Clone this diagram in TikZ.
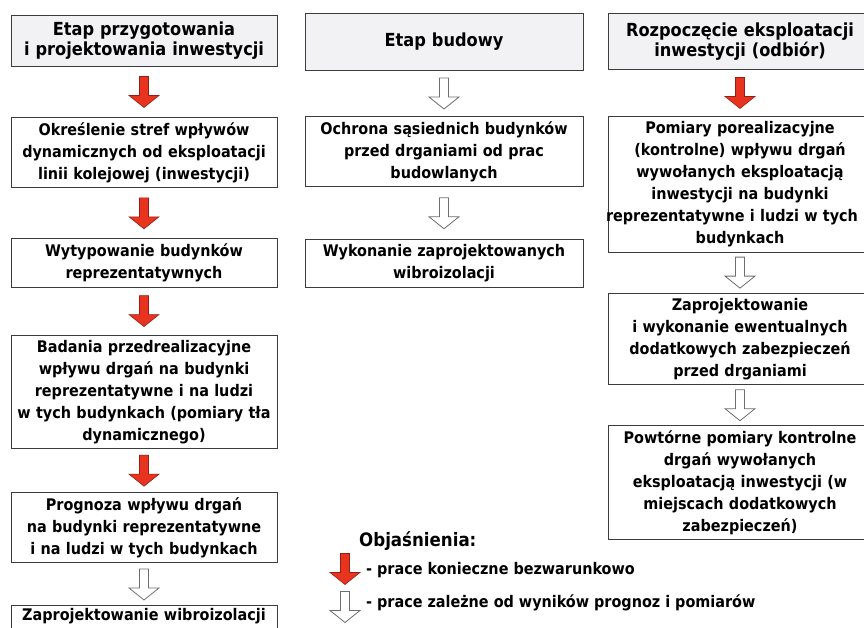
\documentclass[tikz,border=0pt]{standalone}
\usepackage{fontspec}
\setmainfont{DejaVu Sans Condensed}
\usetikzlibrary{calc,positioning}
\definecolor{boxline}{RGB}{60,60,60}
\definecolor{hdrfill}{RGB}{242,242,244}
\definecolor{arrred}{RGB}{232,52,30}
\definecolor{arrdark}{RGB}{150,30,20}
\definecolor{arrgray}{RGB}{110,110,110}
\tikzstyle{hdr}=[draw=boxline,fill=hdrfill,line width=1pt,align=center,inner sep=6pt,font=\bfseries\fontsize{18}{20}\selectfont]
\tikzstyle{box}=[draw=boxline,line width=1pt,align=center,inner xsep=6pt,inner ysep=5pt,font=\bfseries\fontsize{16}{22}\selectfont]
\tikzstyle{must}=[fill=arrred,draw=arrdark,line width=0.6pt,line join=miter]
\tikzstyle{maybe}=[fill=white,draw=arrgray,line width=0.8pt,line join=miter]
\tikzstyle{legend}=[anchor=west,inner sep=0pt,font=\bfseries\fontsize{16}{18}\selectfont]
\newcommand{\blockarrow}[2]{
	\draw[#1] (#2) ++(-4.5,-15.5) -- ++(9,0) -- ++(0,19) -- ++(10.5,0)
		-- ++(-15,12) -- ++(-15,-12) -- ++(10.5,0) -- cycle;
}
\newcommand{\drawarrows}[2][must]{
	\foreach \a/\b in {#2}{
		\blockarrow{#1}{$(\a.south)!0.5!(\b.north)$}
	}
}

\begin{document}
\begin{tikzpicture}[x=1pt,y=-1pt]
\useasboundingbox (0,0) rectangle (864,628);

% etap przygotowania
\node[hdr,text width=254pt,minimum height=51pt,anchor=north] (a0) at (144,15) {Etap przygotowania\\i projektowania inwestycji};
\node[box,text width=254pt,below=50pt of a0] (a1) {Określenie stref wpływów\\dynamicznych od eksploatacji\\linii kolejowej (inwestycji)};
\node[box,text width=254pt,below=50pt of a1] (a2) {Wytypowanie budynków\\reprezentatywnych};
\node[box,text width=254pt,below=47pt of a2] (a3) {Badania przedrealizacyjne\\wpływu drgań na budynki\\reprezentatywne i na ludzi\\w tych budynkach (pomiary tła\\dynamicznego)};
\node[box,text width=254pt,below=43pt of a3] (a4) {Prognoza wpływu drgań\\na budynki reprezentatywne\\i na ludzi w tych budynkach};
\node[box,text width=254pt,inner ysep=2pt,text depth=18pt,below=42pt of a4] (a5) {Zaprojektowanie wibroizolacji};

% etap budowy
\node[hdr,text width=266pt,minimum height=57pt,anchor=north] (b0) at (444,13) {Etap budowy};
\node[box,text width=266pt,below=45pt of b0] (b1) {Ochrona sąsiednich budynków\\przed drganiami od prac\\budowlanych};
\node[box,text width=266pt,below=52pt of b1] (b2) {Wykonanie zaprojektowanych\\wibroizolacji};

% eksploatacja
\node[hdr,text width=252pt,minimum height=56pt,anchor=north] (c0) at (740,13) {Rozpoczęcie eksploatacji\\inwestycji (odbiór)};
\node[box,text width=262pt,inner xsep=1pt,below=46pt of c0] (c1) {Pomiary porealizacyjne\\(kontrolne) wpływu drgań\\wywołanych eksploatacją\\inwestycji na budynki\\\hspace*{-16pt}reprezentatywne i ludzi w tych\\budynkach};
\node[box,text width=262pt,inner xsep=1pt,below=40pt of c1] (c2) {Zaprojektowanie\\i wykonanie ewentualnych\\dodatkowych zabezpieczeń\\przed drganiami};
\node[box,text width=262pt,inner xsep=1pt,below=40pt of c2] (c3) {Powtórne pomiary kontrolne\\drgań wywołanych\\eksploatacją inwestycji (w\\miejscach dodatkowych\\zabezpieczeń)};

\drawarrows{a0/a1,a1/a2,a2/a3,a3/a4,c0/c1}
\drawarrows[maybe]{a4/a5,b0/b1,b1/b2,c1/c2,c2/c3}

% objasnienia
\node[anchor=west,inner sep=0pt,font=\bfseries\fontsize{18.5}{20}\selectfont] (leg) at (359,541) {Objaśnienia:};
\node[legend] (leg1) at (366,570) {- prace konieczne bezwarunkowo};
\node[legend] (leg2) at (366,603) {- prace zależne od wyników prognoz i pomiarów};
\blockarrow{must}{$(leg1.west)+(-21,-1)$}
\blockarrow{maybe}{$(leg2.west)+(-21,4)$}
\end{tikzpicture}
\end{document}
